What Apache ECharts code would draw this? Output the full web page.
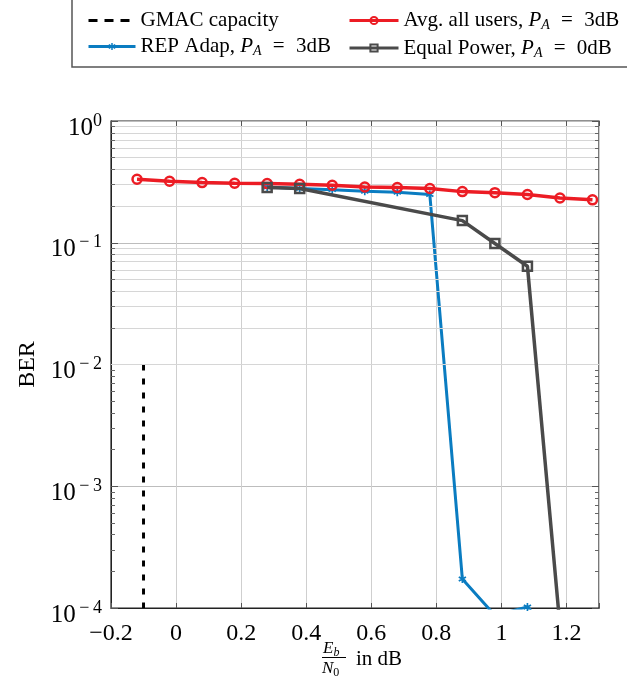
<!DOCTYPE html>
<html><head><meta charset="utf-8">
<script src="https://cdn.jsdelivr.net/npm/echarts@6/dist/echarts.min.js"></script>
<style>html,body{margin:0;padding:0;background:#fff}#c{width:627px;height:696px}</style>
</head><body><div id="c"></div>
<script>
// ---- data ----
const gmacX   = [-0.1, -0.1];
const gmacBER = [1e-2, 1e-4];

const avgX   = [-0.12, -0.02, 0.08, 0.18, 0.28, 0.38, 0.48, 0.58, 0.68, 0.78, 0.88, 0.98, 1.08, 1.18, 1.28];
const avgBER = [0.332, 0.320, 0.312, 0.308, 0.306, 0.302, 0.297, 0.287, 0.284, 0.279, 0.263, 0.258, 0.249, 0.233, 0.225];

const repX   = [0.28, 0.38, 0.48, 0.58, 0.68, 0.78, 0.88, 0.98, 1.08, 1.18];
const repBER = [0.287, 0.279, 0.273, 0.265, 0.260, 0.249, 1.73e-4, 8.7e-5, 1.02e-4, 5e-5];

const eqX   = [0.28, 0.38, 0.88, 0.98, 1.08, 1.18];
const eqBER = [0.284, 0.279, 0.152, 0.0985, 0.0641, 7.1e-5];

const seriesNames = ['GMAC capacity', 'Avg. all users, P_A = 3dB', 'REP Adap, P_A = 3dB', 'Equal Power, P_A = 0dB'];
const xMin = -0.2, xMax = 1.3, xTickStep = 0.2;
const yMin = 1e-4, yMax = 1;

// ---- helpers ----
const pairs = (xs, ys) => xs.map((x, i) => [x, ys[i]]);
const FONT = 'Liberation Serif';
const RED = '#ec1c24', BLUE = '#0a7cc1', GRAY = '#4a4a4a';

function asteriskPath() {
  const w = 0.2, L = 1;
  let p = '';
  [90, 30, 150].forEach(a => {
    const r = a * Math.PI / 180, c = Math.cos(r), s = Math.sin(r);
    const nx = -s * w, ny = c * w;
    const pts = [[L*c+nx, L*s+ny], [L*c-nx, L*s-ny], [-L*c-nx, -L*s-ny], [-L*c+nx, -L*s+ny]];
    p += 'M' + pts.map(q => q[0].toFixed(3) + ',' + q[1].toFixed(3)).join('L') + 'Z';
  });
  return 'path://' + p;
}

const minorVals = [];
for (let d = -4; d <= -1; d++) for (let k = 2; k <= 9; k++) minorVals.push(k * Math.pow(10, d));
const tickLen = (xMax - xMin) * 5 / 488.6;
const minorTickLines = [];
minorVals.forEach(v => {
  minorTickLines.push([{ coord: [xMin, v] }, { coord: [xMin + tickLen * 0.8, v] }]);
  minorTickLines.push([{ coord: [xMax - tickLen * 0.8, v] }, { coord: [xMax, v] }]);
});

const legendRich = {
  i: { fontFamily: FONT, fontStyle: 'italic', fontSize: 21, color: '#000' },
  sub: { fontFamily: FONT, fontStyle: 'italic', fontSize: 14, color: '#000', padding: [10, 0, 0, 0] }
};
const legendFormatter = name => {
  const k = name.indexOf('P_A');
  if (k < 0) return name;
  return name.slice(0, k) + '{i|P}{sub|A}' + name.slice(k + 3).replace(' = ', '\u2004\u2009=\u2004\u2009');
};
const legendText = { fontFamily: FONT, fontSize: 21, color: '#000', rich: legendRich };

const chart = echarts.init(document.getElementById('c'), null, { renderer: 'canvas' });

chart.setOption({
  animation: false,
  backgroundColor: '#fff',
  textStyle: { fontFamily: FONT },
  grid: { left: 111, right: 28, top: 121, bottom: 88, show: true, borderColor: '#222', borderWidth: 1.2, backgroundColor: 'transparent' },
  legend: [
    { data: [{ name: seriesNames[0], itemStyle: { opacity: 0 }, lineStyle: { type: [9, 7], width: 3 } }, { name: seriesNames[2] }],
      orient: 'vertical', left: 82, top: 5, itemGap: 5,
      itemWidth: 47, itemHeight: 9, formatter: legendFormatter, textStyle: legendText,
      lineStyle: { width: 3 } },
    { data: [seriesNames[1], seriesNames[3]], orient: 'vertical', left: 343, top: 5, itemGap: 5,
      itemWidth: 49, itemHeight: 9, formatter: legendFormatter, textStyle: legendText,
      lineStyle: { width: 3 } }
  ],
  xAxis: [
    { type: 'value', min: xMin, max: xMax, interval: xTickStep,
      axisLine: { show: true, onZero: false, lineStyle: { color: '#222', width: 1 } },
      axisTick: { show: true, inside: true, length: 5, lineStyle: { color: '#555' } },
      splitLine: { show: true, lineStyle: { color: '#cfcfcf', width: 1 } },
      axisLabel: { margin: 14, fontFamily: FONT, fontSize: 24, color: '#000',
        formatter: v => { if (Math.abs(v - xMax) < 1e-6) return ''; const r = Math.round(v * 10) / 10; return r < 0 ? '\u2212' + (-r) : String(r); } } },
    { type: 'value', position: 'top', min: xMin, max: xMax, interval: xTickStep,
      axisLine: { show: false, onZero: false }, axisLabel: { show: false }, splitLine: { show: false },
      axisTick: { show: true, inside: true, length: 5, lineStyle: { color: '#555' } } }
  ],
  yAxis: [
    { type: 'log', logBase: 10, min: yMin, max: yMax,
      name: 'BER', nameLocation: 'middle', nameGap: 56, nameRotate: 90,
      nameTextStyle: { fontFamily: FONT, fontSize: 24, color: '#000' },
      axisLine: { show: true, onZero: false, lineStyle: { color: '#222', width: 1 } },
      axisTick: { show: true, inside: true, length: 7, lineStyle: { color: '#555' } },
      splitLine: { show: true, lineStyle: { color: '#bdbdbd', width: 1 } },
      axisLabel: { margin: 9, color: '#000',
        formatter: v => { const e = Math.round(Math.log10(v)); return '{b|10}{s|' + (e === 0 ? '0' : '\u2009\u2212\u2009' + (-e)) + '}'; },
        rich: { b: { fontFamily: FONT, fontSize: 25, color: '#000', padding: [14, 0, 0, 0] },
                s: { fontFamily: FONT, fontSize: 18, color: '#000' } } } },
    { type: 'log', logBase: 10, min: yMin, max: yMax, position: 'right',
      axisLine: { show: false, onZero: false }, axisLabel: { show: false }, splitLine: { show: false },
      axisTick: { show: true, inside: true, length: 7, lineStyle: { color: '#555' } } }
  ],
  graphic: [
    { type: 'rect', shape: { x: 72, y: -5, width: 620, height: 72 }, style: { fill: 'none', stroke: '#555', lineWidth: 1.5 }, silent: true },
    { type: 'text', left: 323, top: 640, style: { text: '{i|E}{s|b}', rich: { i: { fontFamily: FONT, fontStyle: 'italic', fontSize: 17 }, s: { fontFamily: FONT, fontStyle: 'italic', fontSize: 12, padding: [8, 0, 0, 0] } } } },
    { type: 'line', shape: { x1: 322, y1: 657.5, x2: 346, y2: 657.5 }, style: { stroke: '#000', lineWidth: 1 } },
    { type: 'text', left: 322, top: 660, style: { text: '{i|N}{s|0}', rich: { i: { fontFamily: FONT, fontStyle: 'italic', fontSize: 17 }, s: { fontFamily: FONT, fontSize: 12, padding: [8, 0, 0, 0] } } } },
    { type: 'text', left: 356, top: 649, style: { text: 'in dB', fontFamily: FONT, fontSize: 21, fill: '#000' } }
  ],
  series: [
    { type: 'line', name: '_minor', data: [], silent: true, z: 0,
      markLine: { silent: true, symbol: ['none', 'none'], label: { show: false }, animation: false,
        lineStyle: { color: '#d6d6d6', width: 1, type: 'solid' },
        emphasis: { disabled: true },
        data: minorVals.map(v => ({ yAxis: v })) } },
    { type: 'line', name: '_minorTicks', data: [], silent: true, z: 1,
      markLine: { silent: true, symbol: ['none', 'none'], label: { show: false }, animation: false,
        lineStyle: { color: '#666', width: 1, type: 'solid' },
        emphasis: { disabled: true },
        data: minorTickLines } },
    { type: 'line', name: seriesNames[0], data: pairs(gmacX, gmacBER), symbol: 'none', z: 3,
      lineStyle: { color: '#000', width: 3, type: [6, 8] }, itemStyle: { color: '#000' } },
    { type: 'line', name: seriesNames[2], data: pairs(repX, repBER), z: 4,
      symbol: asteriskPath(), symbolSize: 8,
      lineStyle: { color: BLUE, width: 3 }, itemStyle: { color: BLUE, borderWidth: 0 } },
    { type: 'line', name: seriesNames[1], data: pairs(avgX, avgBER), z: 5,
      symbol: 'circle', symbolSize: 9,
      lineStyle: { color: RED, width: 3.5 }, itemStyle: { color: 'rgba(255,255,255,0)', borderColor: RED, borderWidth: 2.5 } },
    { type: 'line', name: seriesNames[3], data: pairs(eqX, eqBER), z: 6,
      symbol: 'rect', symbolSize: 9,
      lineStyle: { color: GRAY, width: 3.5 }, itemStyle: { color: 'rgba(255,255,255,0)', borderColor: GRAY, borderWidth: 2.5 } }
  ]
});
</script>
</body></html>
